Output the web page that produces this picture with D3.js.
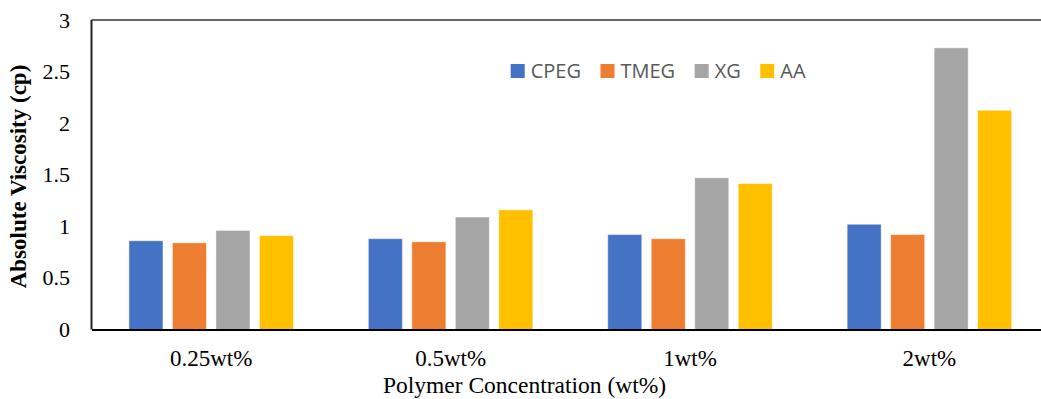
<!DOCTYPE html>
<html>
<head>
<meta charset="utf-8">
<script src="https://cdn.jsdelivr.net/npm/d3@7"></script>
<style>
  html, body { margin: 0; padding: 0; background: #fff; overflow: hidden; }
  svg { display: block; }
</style>
</head>
<body>
<svg id="chart" width="1041" height="399"></svg>
<script>
// Polymer concentrations along the x axis
const categories = ["0.25wt%", "0.5wt%", "1wt%", "2wt%"];
// Series names and colours
const seriesNames = ["CPEG", "TMEG", "XG", "AA"];
const seriesColors = ["#4472C4", "#ED7D31", "#A5A5A5", "#FFC000"];
// Absolute viscosity (cp) per series, one value per concentration
const cpegValues = [0.86, 0.88, 0.92, 1.02];
const tmegValues = [0.84, 0.85, 0.88, 0.92];
const xgValues   = [0.96, 1.09, 1.47, 2.73];
const aaValues   = [0.91, 1.16, 1.415, 2.125];
// Y tick values and labels
const yTicks = [0, 0.5, 1, 1.5, 2, 2.5, 3];
const yTickLabels = ["0", "0.5", "1", "1.5", "2", "2.5", "3"];

const seriesValues = [cpegValues, tmegValues, xgValues, aaValues];

const serif = "'Liberation Serif', 'Times New Roman', serif";
const svg = d3.select("#chart");
const plotLeft = 91.5, plotTop = 20, plotBottom = 329.5;
const bandStep = 239.4;

const x0 = d3.scaleBand()
  .domain(categories)
  .range([plotLeft, plotLeft + bandStep * categories.length])
  .paddingInner(0).paddingOuter(0);

const groupWidth = 164.5;
const x1 = d3.scaleBand()
  .domain(seriesNames)
  .range([0, groupWidth])
  .paddingInner(0.218).paddingOuter(0);

const y = d3.scaleLinear().domain([0, 3]).range([plotBottom, plotTop]);

// Bars
const groups = svg.append("g").selectAll("g")
  .data(categories)
  .join("g")
  .attr("transform", c => `translate(${x0(c) + (x0.bandwidth() - groupWidth) / 2},0)`);

groups.selectAll("rect")
  .data((c, ci) => seriesNames.map((s, si) => ({ s, si, v: seriesValues[si][ci] })))
  .join("rect")
  .attr("x", d => x1(d.s))
  .attr("width", x1.bandwidth())
  .attr("y", d => y(d.v))
  .attr("height", d => y(0) - y(d.v))
  .attr("fill", d => seriesColors[d.si])
  .attr("stroke", "#fff")
  .attr("stroke-opacity", 0.45)
  .attr("stroke-width", 1);

// Frame: top and left lines
svg.append("line")
  .attr("x1", plotLeft).attr("x2", 1041)
  .attr("y1", plotTop).attr("y2", plotTop)
  .attr("stroke", "#333").attr("stroke-width", 1.7);
svg.append("line")
  .attr("x1", plotLeft).attr("x2", plotLeft)
  .attr("y1", plotTop).attr("y2", plotBottom)
  .attr("stroke", "#222").attr("stroke-width", 2);

// X axis
const xAxis = d3.axisBottom(x0).tickSize(0).tickPadding(20);
const gx = svg.append("g")
  .attr("transform", `translate(0,${plotBottom})`)
  .call(xAxis);
gx.select(".domain").attr("stroke", "#000").attr("stroke-width", 2.2);
gx.selectAll("text")
  .attr("font-family", serif)
  .attr("font-size", 23)
  .attr("fill", "#000");

// Y axis
const yAxis = d3.axisLeft(y)
  .tickValues(yTicks)
  .tickFormat((d, i) => yTickLabels[i])
  .tickSize(0).tickPadding(21.5);
const gy = svg.append("g")
  .attr("transform", `translate(${plotLeft},0)`)
  .call(yAxis);
gy.select(".domain").remove();
gy.selectAll("text")
  .attr("font-family", serif)
  .attr("font-size", 22)
  .attr("fill", "#000");

// Axis titles
svg.append("text")
  .attr("x", 524.5).attr("y", 393)
  .attr("text-anchor", "middle")
  .attr("font-family", serif)
  .attr("font-size", 23.5)
  .attr("fill", "#000")
  .text("Polymer Concentration (wt%)");

svg.append("text")
  .attr("transform", "translate(26,176.5) rotate(-90)")
  .attr("text-anchor", "middle")
  .attr("font-family", serif)
  .attr("font-weight", "bold")
  .attr("font-size", 23)
  .attr("fill", "#000")
  .text("Absolute Viscosity (cp)");

// Legend
const legend = svg.append("g").attr("transform", "translate(510.7,64)");
let lx = 0;
seriesNames.forEach((name, i) => {
  const item = legend.append("g").attr("transform", `translate(${lx},0)`);
  item.append("rect")
    .attr("width", 14).attr("height", 14)
    .attr("fill", seriesColors[i]);
  const t = item.append("text")
    .attr("x", 20).attr("y", 14)
    .attr("font-family", "'Open Sans', 'Noto Sans', sans-serif")
    .attr("font-size", 20)
    .attr("fill", "#595959")
    .text(name);
  lx += 20 + t.node().getComputedTextLength() + 19.5;
});
</script>
</body>
</html>
